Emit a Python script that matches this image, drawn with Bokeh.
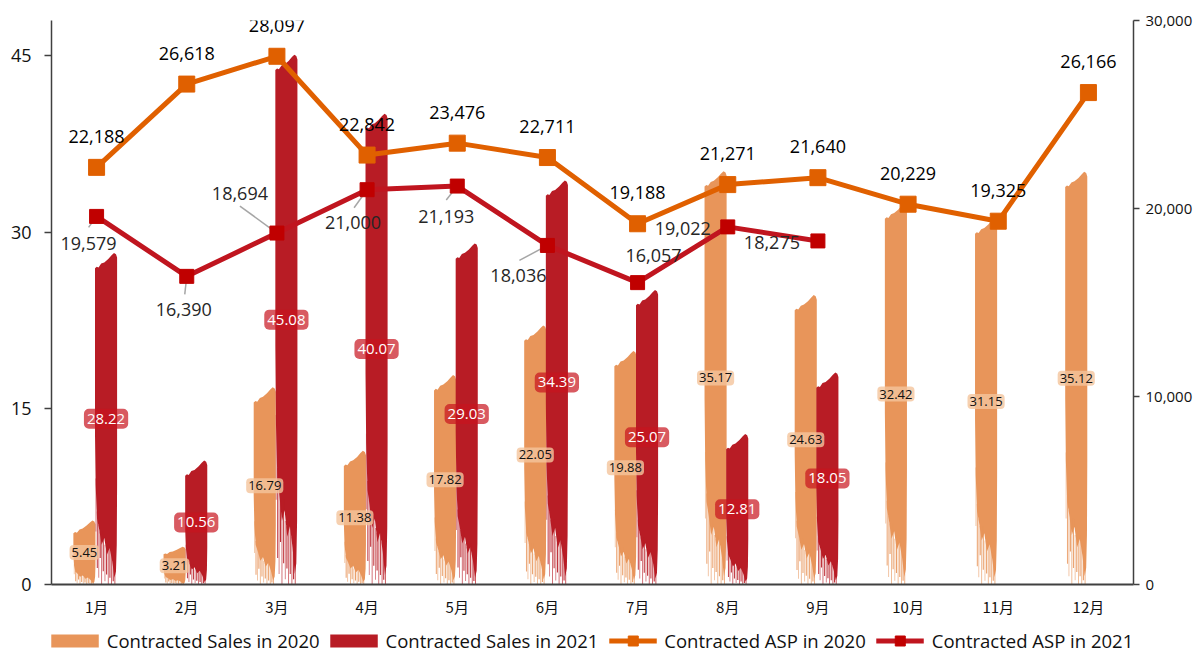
from bokeh.plotting import figure
from bokeh.layouts import column
from bokeh.models import (Range1d, LinearAxis, FixedTicker, NumeralTickFormatter,
                          Legend, LegendItem)
from bokeh.core.properties import value
from bokeh.embed import file_html
from bokeh.resources import INLINE

# ---------------- data ----------------
months = ["1月", "2月", "3月", "4月", "5月", "6月", "7月", "8月", "9月", "10月", "11月", "12月"]
sales_2020 = [5.45, 3.21, 16.79, 11.38, 17.82, 22.05, 19.88, 35.17, 24.63, 32.42, 31.15, 35.12]
sales_2021 = [28.22, 10.56, 45.08, 40.07, 29.03, 34.39, 25.07, 12.81, 18.05]
asp_2020 = [22188, 26618, 28097, 22842, 23476, 22711, 19188, 21271, 21640, 20229, 19325, 26166]
asp_2021 = [19579, 16390, 18694, 21000, 21193, 18036, 16057, 19022, 18275]
left_ticks = [0, 15, 30, 45]
right_ticks = [0, 10000, 20000, 30000]
series_names = ["Contracted Sales in 2020", "Contracted Sales in 2021",
                "Contracted ASP in 2020", "Contracted ASP in 2021"]

# ---------------- styling / layout ----------------
W, H, HLEG = 1199, 624, 29
ML, MR, MT, MB = 51, 66, 20, 40
FW, FH = W - ML - MR, H - MT - MB
YMAX, Y2MAX = 48, 30000
C20, C21 = "#E8955A", "#B81C25"
L20, L21 = "#E06000", "#C0151F"
M21 = "#C00000"
FONT = "Open Sans"
CJK = "Noto Sans CJK SC"
OFF20, OFF21, BW = -0.135, 0.105, 0.245

# label offsets (px, screen down positive) for the 2021 ASP labels and leader ends
lab21_off = [(-8, 27), (-3, 33), (-37, -40), (-14, 33), (-11, 30), (-29, 30), (16, -27), (-45, 2), (-46, 2)]
lead21_end = [(-8, 11), (-2, 18), (-37, -27), (-13, 18), (-11, 14), (-28, 15), (17, -12), None, None]

# brush shape pattern (fractions of bar width / height)
top_pts = [(0.0, 1.0), (0.08, 0.9), (0.16, 0.95), (0.28, 0.7), (0.42, 0.62), (0.6, 0.4),
           (0.75, 0.15), (0.86, 0.0), (0.95, 0.08), (1.0, 0.3)]
bottom_pts = [(1.0, 0.30), (0.985, 0.12), (0.95, 0.04), (0.88, 0.02), (0.78, 0.07), (0.66, 0.11),
              (0.54, 0.09), (0.42, 0.14), (0.30, 0.12), (0.18, 0.17), (0.09, 0.20), (0.03, 0.30), (0.0, 0.45)]
# (left frac, width frac, bottom frac, top frac, alpha)
streaks = [(0.02, 0.04, 0.16, 0.32, 0.55), (0.08, 0.05, 0.05, 0.22, 0.8), (0.15, 0.04, 0.02, 0.18, 0.6),
           (0.21, 0.05, 0.08, 0.16, 0.9), (0.28, 0.04, 0.00, 0.14, 0.7), (0.35, 0.05, 0.04, 0.16, 0.85),
           (0.43, 0.04, 0.01, 0.12, 0.6), (0.50, 0.05, 0.03, 0.11, 0.9), (0.58, 0.04, 0.00, 0.12, 0.7),
           (0.65, 0.05, 0.02, 0.12, 0.85), (0.73, 0.04, 0.00, 0.09, 0.75), (0.80, 0.05, 0.01, 0.08, 0.9),
           (0.88, 0.04, 0.00, 0.05, 0.8)]

xs_units = FW / 12.0  # px per x unit
ys2_units = FH / Y2MAX  # px per ASP unit


def brush(centers, vals):
    pxs, pys = [], []
    sl, sr, sb, stp, sa = [], [], [], [], []
    for xc, v in zip(centers, vals):
        x0 = xc - BW / 2
        d = min(1.3, 0.2 * v)
        xs, ys = [], []
        for fx, fy in top_pts:
            xs.append(x0 + fx * BW)
            ys.append(v - fy * d)
        for fx, fy in bottom_pts:
            xs.append(x0 + fx * BW)
            ys.append(fy * v)
        pxs.append(xs)
        pys.append(ys)
        for fl, fw, fb, ft, a in streaks:
            sl.append(x0 + fl * BW)
            sr.append(x0 + (fl + fw) * BW)
            sb.append(fb * v)
            stp.append(ft * v)
            sa.append(a)
    return pxs, pys, dict(left=sl, right=sr, bottom=sb, top=stp, alpha=sa)


p = figure(width=W, height=H, x_range=Range1d(0, 12), y_range=Range1d(0, YMAX),
           output_backend="svg", toolbar_location=None,
           min_border_left=ML, min_border_right=MR, min_border_top=MT, min_border_bottom=MB)
p.extra_y_ranges = {"asp": Range1d(0, Y2MAX)}
p.xgrid.visible = False
p.ygrid.visible = False
p.outline_line_color = None
p.background_fill_color = "white"

centers = [i + 0.5 for i in range(len(months))]
x20 = [c + OFF20 for c in centers]
x21 = [c + OFF21 for c in centers[:len(sales_2021)]]

# bars 2020
bx, by, st = brush(x20, sales_2020)
p.patches(bx, by, fill_color=C20, line_color=None)
p.quad(source=st, left="left", right="right", bottom="bottom", top="top",
       fill_color=C20, fill_alpha="alpha", line_color=None)
# bars 2021
bx, by, st = brush(x21, sales_2021)
p.patches(bx, by, fill_color=C21, line_color=None)
p.quad(source=st, left="left", right="right", bottom="bottom", top="top",
       fill_color=C21, fill_alpha="alpha", line_color=None)

# bar labels
p.text(x=x20, y=[v / 2 for v in sales_2020], text=[f"{v:.2f}" for v in sales_2020],
       text_font=value(FONT), text_font_size="13px", text_color="#111111",
       text_align="center", text_baseline="middle",
       background_fill_color="#F4C49C", background_fill_alpha=0.8,
       border_radius=4, padding=dict(x=2, y=3))
p.text(x=x21, y=[v / 2 for v in sales_2021], text=[f"{v:.2f}" for v in sales_2021],
       text_font=value(FONT), text_font_size="15px", text_color="white",
       text_align="center", text_baseline="middle",
       background_fill_color="#C8141E", background_fill_alpha=0.7,
       border_radius=5, padding=dict(x=3, y=5))

# leader lines for 2021 ASP labels
lx0, ly0, lx1, ly1 = [], [], [], []
for c, a, e in zip(centers, asp_2021, lead21_end):
    if e is None:
        continue
    lx0.append(c)
    ly0.append(a)
    lx1.append(c + e[0] / xs_units)
    ly1.append(a - e[1] / ys2_units)
p.segment(lx0, ly0, lx1, ly1, y_range_name="asp", line_color="#A6A6A6", line_width=1.5)

# ASP lines
p.line(centers, asp_2020, y_range_name="asp", line_color=L20, line_width=5)
p.scatter(centers, asp_2020, y_range_name="asp", marker="square", size=16,
          fill_color=L20, line_color=L20)
p.line(centers[:len(asp_2021)], asp_2021, y_range_name="asp", line_color=L21, line_width=5)
p.scatter(centers[:len(asp_2021)], asp_2021, y_range_name="asp", marker="square", size=14,
          fill_color=M21, line_color=M21)

# ASP labels
p.text(x=centers, y=asp_2020, text=[f"{v:,}" for v in asp_2020], y_range_name="asp",
       text_font=value(FONT), text_font_size="18px", text_color="#000000",
       text_align="center", text_baseline="middle", y_offset=-31)
p.text(x=centers[:len(asp_2021)], y=asp_2021, text=[f"{v:,}" for v in asp_2021], y_range_name="asp",
       text_font=value(FONT), text_font_size="18px", text_color="#262626",
       text_align="center", text_baseline="middle",
       x_offset=[o[0] for o in lab21_off], y_offset=[o[1] for o in lab21_off])

# axes
AX = "#404040"
yl = p.yaxis[0]
yl.ticker = FixedTicker(ticks=left_ticks)
yl.major_label_text_font = FONT
yl.major_label_text_font_size = "18px"
yl.major_label_text_color = "#111111"
yl.axis_line_color = AX
yl.axis_line_width = 1.5
yl.major_tick_line_color = AX
yl.major_tick_line_width = 1.5
yl.major_tick_out = 7
yl.major_tick_in = 0
yl.minor_tick_line_color = None
yl.major_label_standoff = 13

yr = LinearAxis(y_range_name="asp", ticker=FixedTicker(ticks=right_ticks),
                formatter=NumeralTickFormatter(format="0,0"))
yr.major_label_text_font = FONT
yr.major_label_text_font_size = "15px"
yr.major_label_text_color = "#111111"
yr.axis_line_color = AX
yr.axis_line_width = 1.5
yr.major_tick_line_color = AX
yr.major_tick_line_width = 1.5
yr.major_tick_out = 6
yr.major_tick_in = 0
yr.minor_tick_line_color = None
yr.major_label_standoff = 6
p.add_layout(yr, "right")

xa = p.xaxis[0]
xa.ticker = FixedTicker(ticks=centers)
xa.major_label_overrides = {c: m for c, m in zip(centers, months)}
xa.major_label_text_font = CJK
xa.major_label_text_font_size = "15px"
xa.major_label_text_color = "#111111"
xa.axis_line_color = AX
xa.axis_line_width = 2
xa.major_tick_line_color = None
xa.minor_tick_line_color = None
xa.major_label_standoff = 5

# ---------------- legend strip ----------------
q = figure(width=W, height=HLEG, x_range=Range1d(0, 1), y_range=Range1d(0, 1),
           output_backend="svg", toolbar_location=None,
           x_axis_location=None, y_axis_location=None,
           min_border_left=0, min_border_right=0, min_border_top=0, min_border_bottom=0)
q.xgrid.visible = False
q.ygrid.visible = False
q.outline_line_color = None
# off-screen proxies so that the legend can draw its swatches
g1 = q.line([-5, -4], [-5, -5], line_color=C20, line_width=13)
g2 = q.line([-5, -4], [-5, -5], line_color=C21, line_width=13)
g3l = q.line([-5, -4], [-5, -5], line_color=L20, line_width=5)
g3m = q.scatter([-5], [-5], marker="square", size=16, fill_color=L20, line_color=L20)
g4l = q.line([-5, -4], [-5, -5], line_color=L21, line_width=5)
g4m = q.scatter([-5], [-5], marker="square", size=14, fill_color=M21, line_color=M21)
legend = Legend(items=[
    LegendItem(label=series_names[0], renderers=[g1]),
    LegendItem(label=series_names[1], renderers=[g2]),
    LegendItem(label=series_names[2], renderers=[g3l, g3m]),
    LegendItem(label=series_names[3], renderers=[g4l, g4m]),
], orientation="horizontal", location="bottom_center")
legend.label_text_font = FONT
legend.label_text_font_size = "18.5px"
legend.label_text_color = "#111111"
legend.glyph_width = 48
legend.glyph_height = 25
legend.label_standoff = 8
legend.spacing = 10
legend.padding = 0
legend.margin = 0
legend.background_fill_alpha = 0
legend.border_line_color = None
q.add_layout(legend, "center")

open("out.html", "w").write(file_html(column(p, q, spacing=0), INLINE))
